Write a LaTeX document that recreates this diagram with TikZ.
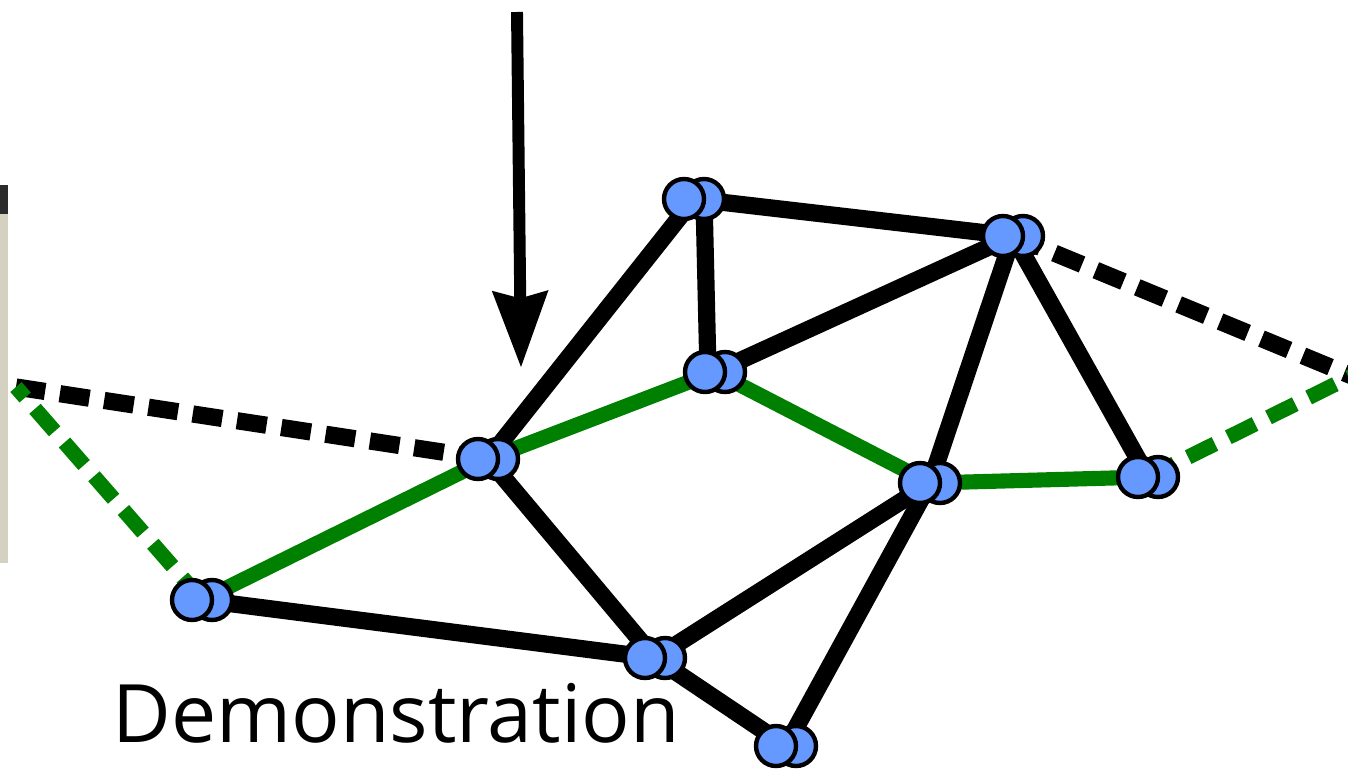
\documentclass[tikz,border=0pt]{standalone}
\usepackage{fontspec}
\setmainfont{Open Sans}
\usetikzlibrary{arrows.meta}
\definecolor{nodeBlue}{RGB}{102, 153, 255}
\definecolor{pathGreen}{RGB}{0, 128, 0}
\definecolor{stripBeige}{RGB}{212, 209, 192}
\definecolor{stripDark}{RGB}{43, 43, 43}

\begin{document}
\begin{tikzpicture}[x=0.02cm, y=-0.02cm,
  edge/.style={line width=9.8pt, black},
  pathedge/.style={line width=8.6pt, pathGreen},
  openedge/.style={dash pattern=on 17pt off 8.5pt},
  dot/.style={circle, draw=black, line width=2.5pt, fill=nodeBlue, inner sep=0pt, minimum size=0.8cm}]
  \useasboundingbox (0,0) rectangle (1348,771);

  % Strip on the left border
  \fill[stripBeige] (0,185) rectangle (8,563);
  \fill[stripDark] (0,185) rectangle (8,214);

  % Node centres
  \foreach \n/\x/\y in {a/694/199, b/1013/236, c/715/372, d/488/459, e/930/483,
                        f/1148/477, g/202/600, h/655/658, i/786/746} {
      \coordinate (\n) at (\x,\y);
  }
  \coordinate (leftEnd) at (16,387);
  \coordinate (rightEnd) at (1352,376);

  % Black edges
  \foreach \u/\v in {a/d, a/b, c/b, b/e, b/f, d/h, g/h, h/e, h/i, e/i} {
      \draw[edge] (\u) -- (\v);
  }
  \draw[edge] ([xshift=0.2cm]a) -- ([xshift=-0.14cm]c);
  \draw[edge, openedge] (d) -- (leftEnd);
  \draw[edge, openedge] (b) -- (rightEnd);

  % Green path
  \draw[pathedge] (g) -- (d) -- (c) -- (e) -- (f);
  \draw[pathedge, openedge] (g) -- (leftEnd);
  \draw[pathedge, openedge] (f) -- (rightEnd);

  % Double nodes
  \foreach \n in {a, b, c, d, e, f, g, h, i} {
      \node[dot] (\n-back) at ([xshift=0.2cm]\n) {};
      \node[dot] (\n-front) at ([xshift=-0.2cm]\n) {};
  }

  % Arrow from the top
  \coordinate (arrowTop) at (517,12);
  \coordinate (arrowTip) at (521,367);
  \draw[line width=6.8pt, -{Stealth[length=43.6pt, width=32.3pt, inset=4.5pt, line width=0pt]}] (arrowTop) -- (arrowTip);

  % Label
  \node[anchor=base west, inner sep=0pt, font=\fontsize{45.9pt}{50pt}\selectfont] (demoLabel) at (112,742) {Demonstration};
\end{tikzpicture}
\end{document}
